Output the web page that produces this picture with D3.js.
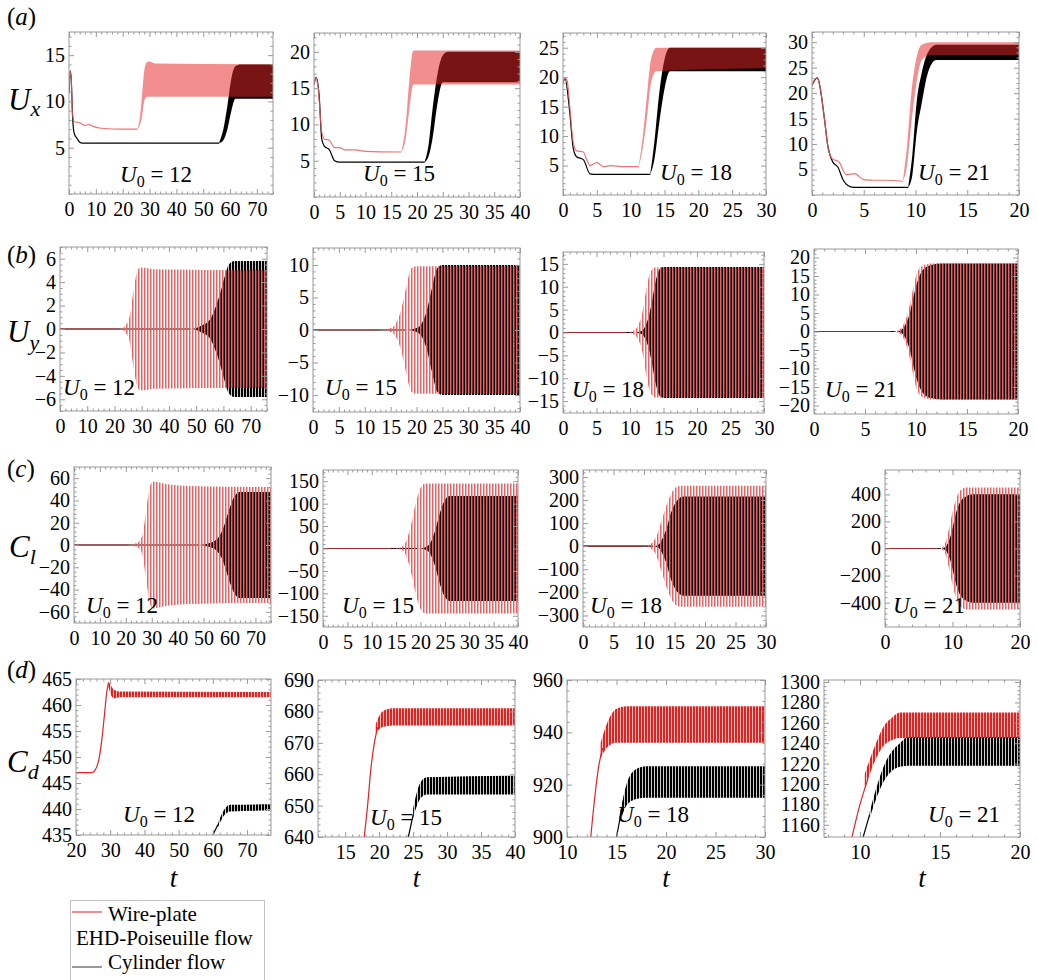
<!DOCTYPE html>
<html>
<head>
<meta charset="utf-8">
<script src="https://cdn.jsdelivr.net/npm/d3@7"></script>
<style>
  body { margin: 0; background: #fff; }
</style>
</head>
<body>
<svg id="chart" width="1037" height="980"></svg>
<script>
// U0 of each column
const u0Values = [12, 15, 18, 21];

// time axes, rows (a)-(c) and row (d)
const timeDomains = [[0, 76], [0, 40], [0, 30], [0, 20]];
const timeTicks = [[0, 10, 20, 30, 40, 50, 60, 70], [0, 5, 10, 15, 20, 25, 30, 35, 40], [0, 5, 10, 15, 20, 25, 30], [0, 5, 10, 15, 20]];
const clTimeTicks = [[0, 10, 20, 30, 40, 50, 60, 70], [0, 5, 10, 15, 20, 25, 30, 35, 40], [0, 5, 10, 15, 20, 25, 30], [0, 10, 20]];
const cdTimeDomains = [[20, 77], [11, 40], [10, 30], [7.75, 20]];
const cdTimeTicks = [[20, 30, 40, 50, 60, 70], [15, 20, 25, 30, 35, 40], [10, 15, 20, 25, 30], [10, 15, 20]];

// value axes
const uxDomains = [[0, 17.5], [0, 22.6], [0, 27.5], [0, 32]];
const uxTicks = [[5, 10, 15], [5, 10, 15, 20], [5, 10, 15, 20, 25], [5, 10, 15, 20, 25, 30]];
const uyDomains = [[-7, 7], [-12.6, 12.6], [-17.6, 17.6], [-22.3, 22.3]];
const uyTicks = [[-6, -4, -2, 0, 2, 4, 6], [-10, -5, 0, 5, 10], [-15, -10, -5, 0, 5, 10, 15], [-20, -15, -10, -5, 0, 5, 10, 15, 20]];
const clDomains = [[-70, 70], [-175, 175], [-350, 330], [-580, 580]];
const clTicks = [[-60, -40, -20, 0, 20, 40, 60], [-150, -100, -50, 0, 50, 100, 150], [-300, -200, -100, 0, 100, 200, 300], [-400, -200, 0, 200, 400]];
const cdDomains = [[435, 465], [640, 690], [900, 960], [1148, 1302]];
const cdTicks = [[435, 440, 445, 450, 455, 460, 465], [640, 650, 660, 670, 680, 690], [900, 920, 940, 960], [1160, 1180, 1200, 1220, 1240, 1260, 1280, 1300]];

// (a) Ux : transient curves [t, Ux] and oscillation envelopes [t, low, high]
const uxWireLine = [
  [[0, 11.5], [0.4, 13.3], [0.8, 12.6], [1.3, 8.6], [2, 7.8], [4, 7.7], [6, 7.4], [7.5, 7.5], [9, 7.3], [12, 7.1], [20, 7.0], [25.6, 7.0]],
  [[0, 15.5], [0.4, 16.5], [0.8, 15], [1.5, 9], [2, 8], [3, 7.8], [4, 6.8], [5, 6.8], [6, 6.5], [8, 6.5], [10, 6.3], [17, 6.2]],
  [[0, 19], [0.3, 19.8], [0.6, 19.5], [1, 15], [1.5, 9], [2, 7.5], [3, 7.3], [3.5, 6], [4, 5], [5, 5.5], [6, 4.8], [7, 5], [9, 4.8], [11.2, 4.8]],
  [[0, 21.5], [0.2, 22.5], [0.5, 23], [0.8, 21], [1.2, 15], [1.5, 10], [2, 7], [2.3, 6.8], [2.6, 6.5], [3.3, 4], [4.1, 4.2], [5, 3], [6, 2.9], [7, 2.9], [8.8, 2.7]]
];
const uxWireBand = [
  [[25.6, 7.0, 7.0], [26.5, 7.5, 8.5], [27.3, 8.5, 11], [28, 10, 13.2], [29, 10.5, 14.2], [29.8, 10.5, 14.3], [32, 10.5, 14.1], [76, 10.5, 14.0]],
  [[17, 6.2, 6.3], [17.8, 8, 10], [18.5, 12, 16], [19.3, 15.5, 20.2], [40, 15.5, 20.2]],
  [[11.2, 4.8, 5], [11.8, 8, 10], [12.5, 14, 18], [13, 19, 23], [13.8, 21, 25], [30, 21.5, 25]],
  [[8.8, 2.7, 3], [9.2, 6, 10], [9.6, 14, 20], [10.1, 22, 27], [10.6, 26.5, 29.5], [11.5, 27.5, 30], [20, 27.5, 30]]
];
const uxCylLine = [
  [[0, 11], [0.4, 13.3], [0.8, 12.5], [1.4, 8], [2, 6.5], [3, 6.0], [4, 5.6], [5, 5.5], [56, 5.5]],
  [[0, 15.5], [0.4, 16.5], [1, 14], [1.5, 8], [2, 7], [3, 6.5], [4, 5], [5, 4.8], [21.5, 4.8]],
  [[0, 19], [0.3, 19.8], [1, 14], [1.5, 8], [2, 6.5], [3, 6], [4, 3.6], [5, 3.5], [12.9, 3.5]],
  [[0, 21.5], [0.5, 23], [1.2, 15], [1.5, 10], [2, 6.5], [2.5, 5.5], [3, 3], [3.5, 1.8], [4, 1.5], [9.3, 1.5]]
];
const uxCylBand = [
  [[56, 5.5, 5.6], [57.5, 5.8, 7], [59, 7, 9.5], [60.5, 9, 12.5], [62, 10.3, 13.8], [64, 10.3, 14], [76, 10.3, 14]],
  [[21.5, 4.8, 4.9], [22.2, 5.5, 7], [23, 8, 12], [24, 13, 17], [25, 15.8, 19.5], [26, 15.8, 20], [40, 15.8, 20]],
  [[12.9, 3.5, 3.6], [13.5, 6, 9], [14.2, 12, 17], [15, 18, 23], [15.8, 21, 25], [30, 21, 25]],
  [[9.3, 1.5, 1.6], [9.7, 4, 8], [10.1, 12, 18], [10.6, 18, 24], [11.2, 24, 28], [12, 26.5, 29.5], [20, 26.5, 29.5]]
];

// (b) Uy : oscillation amplitude [t, amplitude] around zero
const uyWireAmp = [
  [[0, 0], [22, 0], [24, 0.3], [25.5, 1], [26.5, 2.5], [27.5, 4], [28.5, 5], [29.5, 5.25], [35, 5.1], [76, 5.0]],
  [[0, 0], [13, 0], [15, 0.3], [16, 1], [17, 3], [18, 6.5], [19, 9.5], [20, 9.8], [40, 9.8]],
  [[0, 0], [9.5, 0], [10.5, 0.4], [11.2, 1.5], [11.8, 4], [12.4, 9], [13, 13], [13.8, 14.2], [30, 14.2]],
  [[0, 0], [7.5, 0], [8.2, 0.3], [8.7, 1.5], [9.2, 5], [9.6, 10], [10, 15], [10.5, 17.5], [11.5, 18.4], [20, 18.4]]
];
const uyCylAmp = [
  [[0, 0], [48, 0], [52, 0.3], [55, 0.8], [57, 1.8], [59, 3.2], [60.5, 4.5], [62, 5.5], [64, 5.8], [76, 5.8]],
  [[0, 0], [18, 0], [20, 0.3], [21, 1], [22, 3], [23, 6.5], [24, 9.5], [25, 10], [40, 10]],
  [[0, 0], [10.5, 0], [11.8, 0.4], [12.3, 1.5], [12.8, 3.5], [13.3, 7], [13.8, 11], [14.5, 14], [15, 14.3], [30, 14.3]],
  [[0, 0], [8, 0], [8.6, 0.5], [9, 2], [9.4, 5], [9.8, 10], [10.2, 14], [10.8, 17], [11.5, 18], [12.5, 18.4], [20, 18.4]]
];
const uyCylCore = [
  [[56, 0], [58, 1.5], [60, 3], [62, 4.5], [64, 5], [76, 5]],
  [[22, 0], [23.5, 5], [25, 7.5], [40, 7.5]],
  [[12.5, 0], [14, 7], [15.5, 9.5], [30, 9.5]],
  [[9, 0], [10, 8], [11, 11], [20, 11.5]]
];

// (c) Cl : oscillation amplitude [t, amplitude]
const clWireAmp = [
  [[0, 0], [21, 0], [23, 1], [25, 3], [26.5, 10], [27.5, 25], [28.5, 42], [29.5, 54], [30.5, 57], [35, 55], [45, 53], [76, 52]],
  [[0, 0], [14, 0], [16, 3], [17, 15], [18, 50], [19, 100], [20, 135], [21, 145], [40, 145]],
  [[0, 0], [10, 0], [11, 8], [12, 40], [13, 120], [14, 200], [15, 250], [16, 262], [30, 262]],
  [[0, 0], [7.8, 0], [8.5, 10], [9, 50], [9.5, 150], [10, 270], [10.5, 360], [11, 420], [12, 450], [20, 450]]
];
const clCylAmp = [
  [[0, 0], [48, 0], [52, 1.5], [55, 5], [57, 12], [59, 25], [60.5, 36], [62, 44], [64, 47.5], [76, 47.5]],
  [[0, 0], [19.5, 0], [21, 3], [22, 12], [23, 40], [24, 80], [25, 108], [26, 117], [40, 117]],
  [[0, 0], [11.5, 0], [12.5, 10], [13.5, 60], [14.5, 150], [15.5, 200], [16.5, 215], [30, 215]],
  [[0, 0], [8.3, 0], [9, 15], [9.5, 60], [10, 150], [10.5, 260], [11, 330], [12, 385], [13, 400], [20, 400]]
];
const clCylCore = [
  [[52, 0], [57, 10], [60, 32], [63, 45], [76, 46]],
  [[21.5, 0], [23, 30], [24.5, 80], [26, 100], [40, 100]],
  [[12.5, 0], [14, 90], [15.5, 170], [17, 185], [30, 185]],
  [[9, 0], [10, 120], [11, 290], [12.5, 350], [20, 350]]
];

// (d) Cd : curves [t, Cd] and oscillation envelopes [t, low, high]
const cdWireLine = [
  [[20, 447], [24.5, 447], [25.5, 447.4], [26.5, 449], [27.5, 453], [28.3, 458], [29, 462.5], [29.5, 464.3]],
  [[17.8, 640], [18.3, 650], [18.8, 662], [19.3, 670], [19.8, 675]],
  [[12.4, 900], [12.8, 915], [13.2, 927], [13.6, 934]],
  [[9.5, 1148], [10, 1180], [10.5, 1205]]
];
const cdWireBand = [
  [[29.5, 463.5, 464.5], [30, 462.3, 464], [31, 461.3, 463], [33, 461.5, 462.6], [77, 461.5, 462.5]],
  [[19.5, 673, 676], [20.5, 675, 680], [22, 675.5, 681], [40, 675.5, 681]],
  [[13.4, 930, 936], [14, 934, 943], [15, 936, 949], [16, 936, 950], [30, 936, 950]],
  [[10.3, 1195, 1210], [11, 1225, 1240], [11.5, 1238, 1257], [12, 1243, 1265], [12.5, 1245, 1270], [20, 1245, 1270]]
];
const cdCylLine = [
  [[60, 435], [61.5, 437]],
  [[24.3, 640], [25, 647]],
  [[15, 900], [15.4, 908]],
  [[10.2, 1148], [10.6, 1170]]
];
const cdCylBand = [
  [[61.5, 436.5, 437.2], [63, 438.5, 439.5], [65, 439.5, 440.8], [77, 439.7, 440.9]],
  [[25, 646, 649], [26, 652, 657], [27, 653.5, 659], [40, 653.5, 659.5]],
  [[15.4, 906, 910], [16, 912, 920], [17, 914.5, 926], [18, 915, 927], [30, 915, 927]],
  [[10.6, 1166, 1172], [11, 1185, 1195], [11.5, 1203, 1218], [12, 1213, 1232], [12.5, 1217, 1240], [13, 1218, 1246], [20, 1218, 1246]]
];

const rowLetters = ["a", "b", "c", "d"];
const legendNames = ["Wire-plate", "EHD-Poiseuille flow", "Cylinder flow"];

// panel frames [left, top, right, bottom]
const frames = [
  [[69, 32, 273, 194], [314, 33, 520, 197], [563, 33, 766, 195], [812, 32, 1019, 195]],
  [[60, 247, 267, 411], [313, 248, 520, 412], [563, 252, 764, 413], [814, 249, 1018, 414]],
  [[74, 467, 271, 623], [323, 470, 518, 627], [583, 470, 766, 627], [885, 470, 1020, 627]],
  [[76, 679, 271, 835], [318, 680, 515, 837], [567, 680, 765, 837], [824, 680, 1020, 837]]
];
// left/baseline of the U0 labels
const u0Pos = [
  [[120, 182], [363, 181], [660, 180], [918, 180]],
  [[63, 395], [325, 395], [572, 397], [825, 397]],
  [[86, 613], [342, 613], [590, 613], [893, 613]],
  [[123, 822], [370, 825], [617, 822], [928, 822]]
];

const wireRed = "#e3211f";
const frameGray = "#9a9a9a";
const serif = "'Liberation Serif'";

const svg = d3.select("#chart");
const defs = svg.append("defs");

function stripes(id, period, width, offset, color) {
  const p = defs.append("pattern")
    .attr("id", id)
    .attr("patternUnits", "userSpaceOnUse")
    .attr("width", period).attr("height", 10);
  p.append("rect")
    .attr("x", offset).attr("y", 0)
    .attr("width", width).attr("height", 10)
    .attr("fill", color);
}
stripes("redStripe", 3, 1.5, 0, "#f06060");
stripes("redStripeD", 3, 2.3, 0, wireRed);
stripes("blackStripe", 3, 2.2, 0.8, "#000");

// build one framed panel with its scales
function makePanel(r, c, xDom, yDom) {
  const [l, t, rt, b] = frames[r][c];
  const x = d3.scaleLinear().domain(xDom).range([l, rt]);
  const y = d3.scaleLinear().domain(yDom).range([b, t]);
  const id = "clip" + r + c;
  defs.append("clipPath").attr("id", id)
    .append("rect").attr("x", l).attr("y", t).attr("width", rt - l).attr("height", b - t);
  const g = svg.append("g");
  const plot = g.append("g").attr("clip-path", "url(#" + id + ")");
  return { r, c, g, plot, x, y, l, t, rt, b };
}

function minors(ticks, dom) {
  const step = ticks[1] - ticks[0];
  const sub = step / (step === 2 ? 4 : 5);
  const out = [];
  for (let v = ticks[0] - step; v <= ticks[ticks.length - 1] + step + 1e-9; v += sub) {
    const vv = Math.round(v * 1000) / 1000;
    if (vv >= dom[0] && vv <= dom[1] && !ticks.includes(vv)) out.push(vv);
  }
  return out;
}

function txt(sel, size) {
  return sel.style("font-family", serif).style("font-size", size + "px");
}

function finishPanel(p, xTicks, yTicks) {
  const { g, x, y, l, t, rt, b } = p;
  const fmt = d3.format("d");
  const sides = [
    [d3.axisBottom(x), "translate(0," + b + ")", xTicks, x.domain(), true, 8],
    [d3.axisTop(x), "translate(0," + t + ")", xTicks, x.domain(), false, 0],
    [d3.axisLeft(y), "translate(" + l + ",0)", yTicks, y.domain(), true, 4],
    [d3.axisRight(y), "translate(" + rt + ",0)", yTicks, y.domain(), false, 0]
  ];
  sides.forEach(([axis, tr, ticks, dom, labelled, pad]) => {
    const major = g.append("g").attr("transform", tr)
      .call(axis.tickValues(ticks).tickSize(-5).tickPadding(pad)
        .tickFormat(labelled ? fmt : ""));
    major.attr("font-family", null).attr("font-size", null);
    major.select(".domain").remove();
    major.selectAll(".tick line").attr("stroke", frameGray);
    txt(major.selectAll(".tick text"), 20);
    const minor = g.append("g").attr("transform", tr)
      .call(axis.tickValues(minors(ticks, dom)).tickSize(-2.5).tickFormat(""));
    minor.select(".domain").remove();
    minor.selectAll(".tick line").attr("stroke", frameGray);
  });
  g.append("rect")
    .attr("x", l).attr("y", t).attr("width", rt - l).attr("height", b - t)
    .attr("fill", "none").attr("stroke", frameGray).attr("stroke-width", 1);
  // U0 label
  const [ux, uy] = u0Pos[p.r][p.c];
  const lab = txt(g.append("text").attr("x", ux).attr("y", uy), 23);
  lab.append("tspan").style("font-style", "italic").text("U");
  lab.append("tspan").attr("dy", 5).style("font-size", "16px").text("0");
  lab.append("tspan").attr("dy", -5).text(" = " + u0Values[p.c]);
}

const lineGen = (p) => d3.line().curve(d3.curveMonotoneX).x(d => p.x(d[0])).y(d => p.y(d[1]));
const bandGen = (p) => d3.area().curve(d3.curveMonotoneX)
  .x(d => p.x(d[0])).y0(d => p.y(d[1])).y1(d => p.y(d[2]));
const ampGen = (p) => d3.area().curve(d3.curveMonotoneX)
  .x(d => p.x(d[0])).y0(d => p.y(-d[1])).y1(d => p.y(d[1]));

function drawLine(p, data, color, width, opacity) {
  p.plot.append("path").datum(data).attr("d", lineGen(p))
    .attr("fill", "none").attr("stroke", color).attr("stroke-width", width)
    .attr("stroke-opacity", opacity || 1);
}
function drawBand(p, data, fill, opacity) {
  p.plot.append("path").datum(data).attr("d", bandGen(p)).attr("fill", fill)
    .attr("fill-opacity", opacity || 1);
}
function drawAmp(p, data, fill) {
  p.plot.append("path").datum(data).attr("d", ampGen(p)).attr("fill", fill);
}

// row (a): Ux
u0Values.forEach((u0, c) => {
  const p = makePanel(0, c, timeDomains[c], uxDomains[c]);
  drawBand(p, uxCylBand[c], "#000");
  drawLine(p, uxCylLine[c], "#000", 1.2);
  drawBand(p, uxWireBand[c], "#e82626", 0.52);
  drawLine(p, uxWireLine[c], "#ec5a5a", 1.2, 0.85);
  finishPanel(p, timeTicks[c], uxTicks[c]);
});

// rows (b) and (c): Uy, Cl
[[uyWireAmp, uyCylAmp, uyCylCore, uyDomains, uyTicks, timeTicks], [clWireAmp, clCylAmp, clCylCore, clDomains, clTicks, clTimeTicks]]
  .forEach(([wire, cyl, core, doms, ticks, xt], k) => {
    u0Values.forEach((u0, c) => {
      const p = makePanel(k + 1, c, timeDomains[c], doms[c]);
      const still = (arr) => arr.filter(d => d[1] === 0).map(d => [d[0], 0]);
      drawLine(p, still(cyl[c]), "#000", 1.2);
      drawAmp(p, cyl[c], "url(#blackStripe)");
      drawAmp(p, core[c], "#000");
      drawLine(p, still(wire[c]), "#c03030", 1.2, 0.8);
      drawAmp(p, wire[c], "url(#redStripe)");
      finishPanel(p, xt[c], ticks[c]);
    });
  });

// row (d): Cd
u0Values.forEach((u0, c) => {
  const p = makePanel(3, c, cdTimeDomains[c], cdDomains[c]);
  drawLine(p, cdCylLine[c], "#000", 1.2);
  drawBand(p, cdCylBand[c], "url(#blackStripe)");
  drawLine(p, cdWireLine[c], wireRed, 1.2);
  drawBand(p, cdWireBand[c], "url(#redStripeD)");
  finishPanel(p, cdTimeTicks[c], cdTicks[c]);
  txt(svg.append("text"), 27)
    .attr("x", (p.l + p.rt) / 2).attr("y", 887)
    .attr("text-anchor", "middle")
    .style("font-style", "italic")
    .text("t");
});

// panel letters
const letterY = [25, 263, 477, 678];
rowLetters.forEach((s, i) => {
  const lt = txt(svg.append("text").attr("x", 7).attr("y", letterY[i]), 25);
  lt.append("tspan").text("(");
  lt.append("tspan").style("font-style", "italic").text(s);
  lt.append("tspan").text(")");
});

// quantity labels
const qLabels = [["U", "x", 8, 110, 6], ["U", "y", 7, 342, 8], ["C", "l", 9, 557, 7], ["C", "d", 7, 772, 7]];
qLabels.forEach(([m, s, x, y, dy]) => {
  const q = txt(svg.append("text").attr("x", x).attr("y", y), 31).style("font-style", "italic");
  q.append("tspan").text(m);
  q.append("tspan").attr("dy", dy).style("font-size", "22px").text(s);
});

// legend
const lg = svg.append("g");
lg.append("rect").attr("x", 70.5).attr("y", 900.5).attr("width", 194).attr("height", 100)
  .attr("fill", "#fff").attr("stroke", "#c4c4c4");
lg.append("line").attr("x1", 72).attr("x2", 102).attr("y1", 912).attr("y2", 912)
  .attr("stroke", "#e8413e").attr("stroke-width", 1.2);
lg.append("line").attr("x1", 72).attr("x2", 102).attr("y1", 967).attr("y2", 967)
  .attr("stroke", "#555").attr("stroke-width", 1.2);
[[108, 921], [76, 945], [108, 969]].forEach(([x, y], i) => {
  txt(lg.append("text").attr("x", x).attr("y", y), 21).text(legendNames[i]);
});
</script>
</body>
</html>
